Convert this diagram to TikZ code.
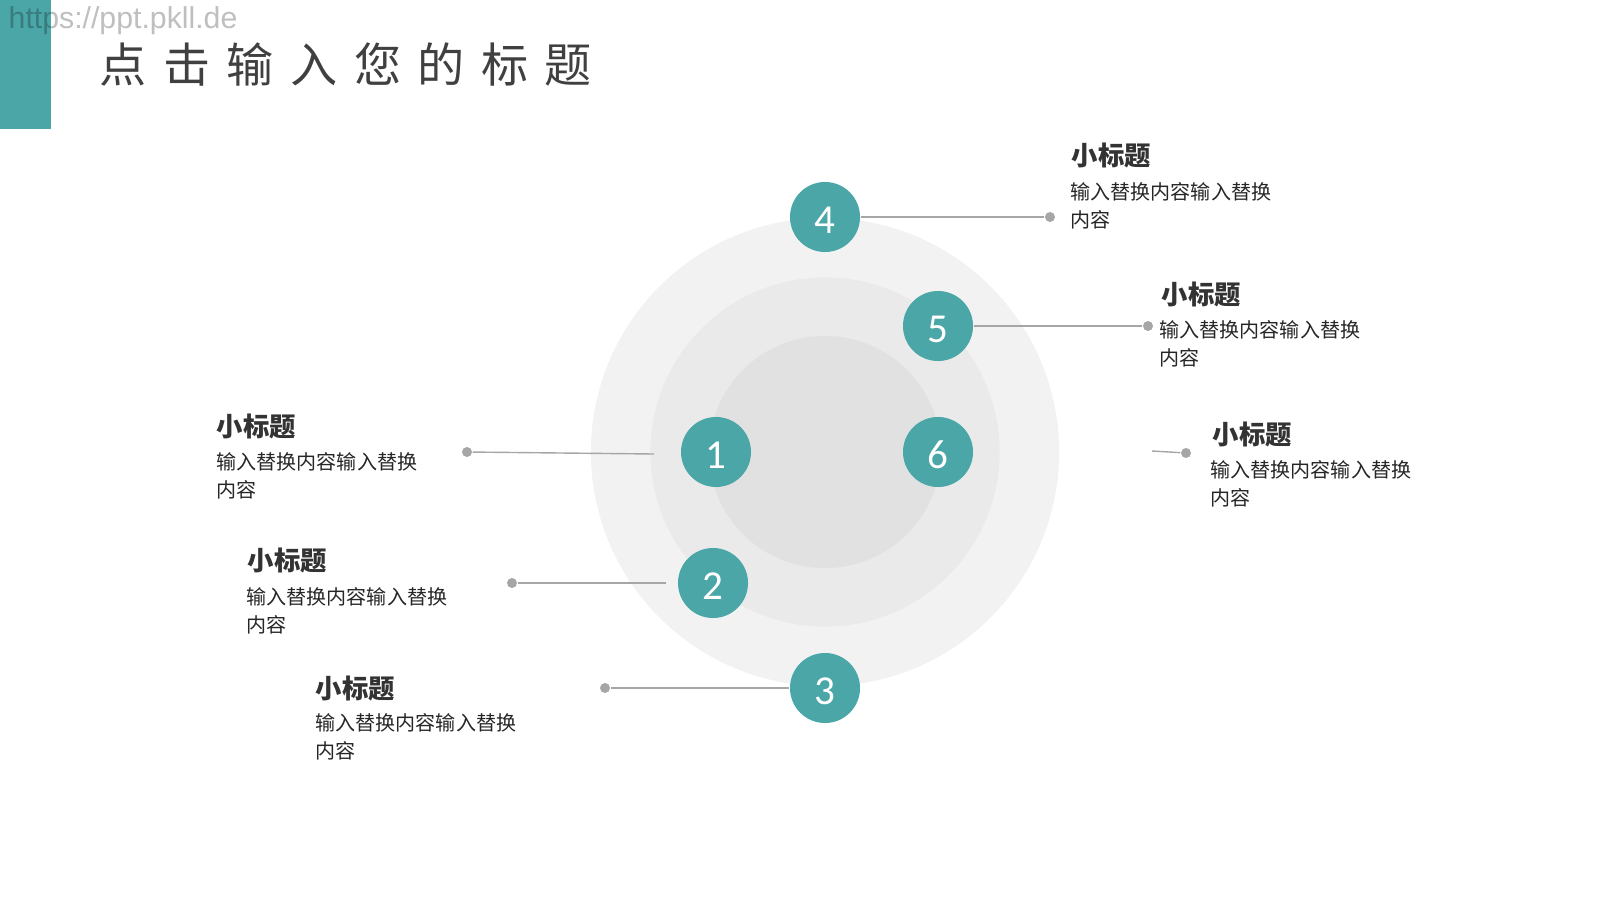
\documentclass[tikz,border=0pt]{standalone}
\usepackage{fontspec}
\setmainfont{Noto Sans CJK SC}
\newfontfamily\numfont{Carlito}
\newfontfamily\urlfont{Liberation Sans}
\definecolor{tealmain}{HTML}{4BA6A8}
\definecolor{ringout}{HTML}{F2F2F3}
\definecolor{ringmid}{HTML}{EAEAEB}
\definecolor{ringin}{HTML}{E1E1E2}
\definecolor{linegray}{HTML}{A6A6A6}
\definecolor{headtext}{HTML}{333333}
\definecolor{bodytext}{HTML}{262626}
\definecolor{titletext}{HTML}{404040}
\tikzset{
  num/.style={circle,fill=tealmain,minimum size=0.7cm,inner sep=0,text=white,
    text height=3.2mm,text depth=0mm,font=\numfont\fontsize{11.7}{12}\selectfont},
  dot/.style={circle,fill=linegray,minimum size=0.1cm,inner sep=0},
  conn/.style={draw=linegray,line width=0.4pt},
  subhead/.style={anchor=west,inner sep=0,text=headtext,font=\bfseries\fontsize{7.5}{9}\selectfont},
  bodytxt/.style={anchor=north west,inner sep=0,align=left,text=bodytext,
    font=\fontsize{5.7}{7.8}\selectfont}
}
\begin{document}
\begin{tikzpicture}[x=0.01cm,y=-0.01cm]
  \useasboundingbox (0,0) rectangle (1600,900);
  \fill[tealmain] (0,0) rectangle (51,129);
  \node[anchor=west,inner sep=0,text=black,opacity=0.25,font=\urlfont\fontsize{8.6}{9}\selectfont] (url) at (8,21) {https://ppt.pkll.de};
  \node[anchor=west,inner sep=0,text=titletext,font=\fontsize{13.4}{14}\selectfont\addfontfeature{LetterSpace=35}] (title) at (99,64) {点击输入您的标题};

  \fill[ringout] (825,452) circle [radius=2.34cm];
  \fill[ringmid] (825,452) circle [radius=1.745cm];
  \fill[ringin] (825,452) circle [radius=1.16cm];

  \node[num] (n1) at (716,452) {1};
  \node[num] (n2) at (713,583) {2};
  \node[num] (n3) at (825,688) {3};
  \node[num] (n4) at (825,217) {4};
  \node[num] (n5) at (938,326) {5};
  \node[num] (n6) at (938,452) {6};

  \node[dot] (d1) at (467,452) {};
  \node[dot] (d2) at (512,583) {};
  \node[dot] (d3) at (605,688) {};
  \node[dot] (d4) at (1050,217) {};
  \node[dot] (d5) at (1148,326) {};
  \node[dot] (d6) at (1186,453) {};
  \coordinate (e1) at (654,454);
  \coordinate (e2) at (666,583);
  \coordinate (e6) at (1152,451);

  \draw[conn] (d1) -- (e1);
  \draw[conn] (d2) -- (e2);
  \draw[conn] (d3) -- (n3);
  \draw[conn] (n4) -- (d4);
  \draw[conn] (n5) -- (d5);
  \draw[conn] (e6) -- (d6);

  \node[subhead] (h4) at (1071,155) {小标题};
  \node[bodytxt] (b4) at (1070,182) {输入替换内容输入替换\\内容};
  \node[subhead] (h5) at (1161,294) {小标题};
  \node[bodytxt] (b5) at (1159,320) {输入替换内容输入替换\\内容};
  \node[subhead] (h1) at (216,426) {小标题};
  \node[bodytxt] (b1) at (216,452) {输入替换内容输入替换\\内容};
  \node[subhead] (h6) at (1212,434) {小标题};
  \node[bodytxt] (b6) at (1210,460) {输入替换内容输入替换\\内容};
  \node[subhead] (h2) at (247,560) {小标题};
  \node[bodytxt] (b2) at (246,587) {输入替换内容输入替换\\内容};
  \node[subhead] (h3) at (315,688) {小标题};
  \node[bodytxt] (b3) at (315,713) {输入替换内容输入替换\\内容};
\end{tikzpicture}
\end{document}
